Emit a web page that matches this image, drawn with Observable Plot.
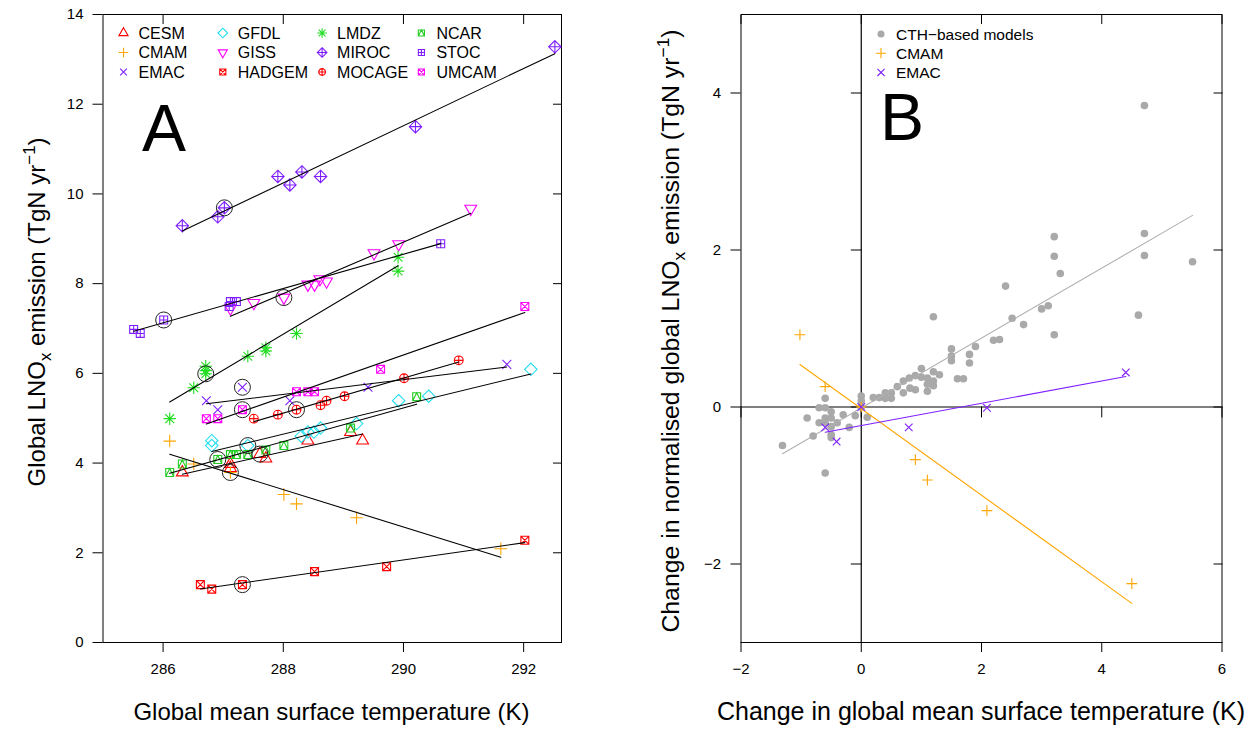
<!DOCTYPE html>
<html><head><meta charset="utf-8">
<script src="https://cdn.jsdelivr.net/npm/d3@7"></script>
<script src="https://cdn.jsdelivr.net/npm/@observablehq/plot@0.6"></script>
<style>
html,body{margin:0;padding:0;background:#fff;}
#wrap{position:relative;width:1256px;height:731px;font-family:"Liberation Sans",Arial,Helvetica,sans-serif;}
#wrap svg{position:absolute;top:0;}
</style></head><body><div id="wrap"></div>
<script>
// ---------- Panel A data ----------
const models = ["CESM","CMAM","EMAC","GFDL","GISS","HADGEM","LMDZ","MIROC","MOCAGE","NCAR","STOC","UMCAM"];
const modelColors = ["#ff0000","#ffa500","#7f1fff","#22def0","#ff00ff","#ff0000","#22dd22","#7f1fff","#ff0000","#22cc22","#7f1fff","#ff00ff"];
const modelSymbols = ["triUp","plus","cross","diamond","triDown","squareX","asterisk","diamondPlus","circlePlus","squareTri","squarePlus","squareX"];
const refIndex = [3,2,2,2,2,2,2,2,2,2,2,2];

const tempCESM = [286.32, 287.12, 287.12, 287.61, 287.71, 288.41, 289.12, 289.32];
const lnoxCESM = [3.79, 3.98, 3.89, 4.20, 4.10, 4.50, 4.69, 4.50];
const tempCMAM = [286.11, 286.51, 287.12, 288.01, 288.22, 289.22, 291.62];
const lnoxCMAM = [4.49, 3.98, 3.79, 3.30, 3.09, 2.78, 2.09];
const tempEMAC = [286.72, 286.91, 287.32, 288.11, 289.41, 291.72];
const lnoxEMAC = [5.39, 5.19, 5.69, 5.39, 5.69, 6.20];
const tempGFDL = [286.81, 286.81, 287.41, 288.30, 288.41, 288.51, 288.62, 289.22, 289.92, 290.42, 292.12];
const lnoxGFDL = [4.50, 4.39, 4.39, 4.60, 4.69, 4.69, 4.78, 4.88, 5.39, 5.49, 6.09];
const tempGISS = [287.12, 287.51, 288.01, 288.41, 288.52, 288.61, 288.72, 289.51, 289.92, 291.12];
const lnoxGISS = [7.45, 7.57, 7.69, 7.98, 7.98, 8.10, 8.05, 8.68, 8.88, 9.67];
const tempHADGEM = [286.62, 286.81, 287.32, 288.52, 289.72, 292.02];
const lnoxHADGEM = [1.29, 1.19, 1.29, 1.58, 1.69, 2.28];
const tempLMDZ = [286.11, 286.51, 286.71, 286.71, 286.71, 287.41, 287.71, 287.71, 288.22, 289.91, 289.91];
const lnoxLMDZ = [4.99, 5.68, 5.99, 6.06, 6.16, 6.38, 6.50, 6.57, 6.89, 8.59, 8.28];
const tempMIROC = [286.32, 286.91, 287.02, 287.91, 288.11, 288.31, 288.62, 290.20, 292.52];
const lnoxMIROC = [9.29, 9.49, 9.69, 10.39, 10.20, 10.49, 10.39, 11.50, 13.28];
const tempMOCAGE = [287.51, 287.91, 288.22, 288.62, 288.72, 289.02, 290.01, 290.92];
const lnoxMOCAGE = [4.99, 5.08, 5.19, 5.29, 5.39, 5.49, 5.89, 6.29];
const tempNCAR = [286.11, 286.32, 286.91, 287.12, 287.22, 287.41, 287.71, 288.01, 289.12, 290.22];
const lnoxNCAR = [3.79, 3.98, 4.08, 4.19, 4.19, 4.19, 4.29, 4.39, 4.78, 5.48];
const tempSTOC = [285.51, 285.62, 286.01, 287.10, 287.12, 287.22, 290.62];
const lnoxSTOC = [6.98, 6.89, 7.19, 7.49, 7.60, 7.60, 8.89];
const tempUMCAM = [286.72, 286.91, 287.32, 288.22, 288.41, 288.52, 289.62, 292.02];
const lnoxUMCAM = [4.99, 4.99, 5.19, 5.59, 5.59, 5.59, 6.09, 7.49];

const tempsA = [tempCESM,tempCMAM,tempEMAC,tempGFDL,tempGISS,tempHADGEM,tempLMDZ,tempMIROC,tempMOCAGE,tempNCAR,tempSTOC,tempUMCAM];
const lnoxA = [lnoxCESM,lnoxCMAM,lnoxEMAC,lnoxGFDL,lnoxGISS,lnoxHADGEM,lnoxLMDZ,lnoxMIROC,lnoxMOCAGE,lnoxNCAR,lnoxSTOC,lnoxUMCAM];
const ticksAx = [286, 288, 290, 292];
const ticksAy = [0, 2, 4, 6, 8, 10, 12, 14];

// ---------- Panel B data ----------
const dTempCTH = [4.71,4.71,4.71,5.51,4.61,3.21,3.21,3.31,3.21,2.40,1.20,2.51,2.70,3.00,3.11,2.20,2.30,1.50,1.90,1.50,1.50,1.80,1.80,1.60,1.70,1.00,1.20,1.30,0.70,0.80,0.90,1.00,1.10,1.20,1.10,0.90,0.70,0.60,0.40,0.50,0.20,0.30,0.00,0.81,1.20,1.10,0.40,0.50,0.00,0.00,0.10,-0.10,-0.30,-0.20,-0.60,-0.70,-0.60,-0.50,-0.50,-0.60,-0.90,-0.70,-0.60,-0.50,-0.40,-0.50,-0.50,-0.80,-1.31,-0.60];
const dLnoxCTH = [3.84,2.21,1.93,1.85,1.17,2.17,1.92,1.70,0.92,1.54,1.15,1.13,1.05,1.25,1.29,0.85,0.86,0.74,0.77,0.65,0.59,0.67,0.56,0.36,0.36,0.49,0.45,0.41,0.33,0.37,0.40,0.38,0.37,0.27,0.20,0.22,0.18,0.26,0.18,0.18,0.12,0.12,0.14,0.24,0.33,0.29,0.11,0.11,0.08,0.00,-0.13,-0.11,-0.10,-0.26,0.11,-0.01,-0.01,-0.06,-0.14,-0.14,-0.14,-0.20,-0.20,-0.25,-0.20,-0.35,-0.39,-0.37,-0.49,-0.84];
const dTempCMAM = [-1.02, -0.60, 0.00, 0.90, 1.10, 2.09, 4.50];
const dLnoxCMAM = [0.92, 0.26, 0.00, -0.67, -0.93, -1.32, -2.25];
const dTempEMAC = [-0.60, -0.41, 0.00, 0.79, 2.09, 4.40];
const dLnoxEMAC = [-0.26, -0.44, 0.00, -0.26, -0.01, 0.44];
const ticksBx = [-2, 0, 2, 4, 6];
const ticksBy = [-2, 0, 2, 4];
const legendB = ["CTH\u2212based models", "CMAM", "EMAC"];

// ---------- R-like plotting symbols ----------
const rad = (size) => Math.sqrt(size / Math.PI);
const SYM = {
  triUp: {draw(c, size){const s=rad(size); c.moveTo(0,-1.5551*s); c.lineTo(1.3468*s,0.7776*s); c.lineTo(-1.3468*s,0.7776*s); c.closePath();}},
  triDown: {draw(c, size){const s=rad(size); c.moveTo(0,1.5551*s); c.lineTo(1.3468*s,-0.7776*s); c.lineTo(-1.3468*s,-0.7776*s); c.closePath();}},
  plus: {draw(c, size){const s=rad(size)*1.4142; c.moveTo(-s,0); c.lineTo(s,0); c.moveTo(0,-s); c.lineTo(0,s);}},
  cross: {draw(c, size){const s=rad(size); c.moveTo(-s,-s); c.lineTo(s,s); c.moveTo(-s,s); c.lineTo(s,-s);}},
  diamond: {draw(c, size){const s=rad(size)*1.4142; c.moveTo(0,-s); c.lineTo(s,0); c.lineTo(0,s); c.lineTo(-s,0); c.closePath();}},
  squareX: {draw(c, size){const s=rad(size)*0.9; c.rect(-s,-s,2*s,2*s); c.moveTo(-s,-s); c.lineTo(s,s); c.moveTo(-s,s); c.lineTo(s,-s);}},
  asterisk: {draw(c, size){const r=rad(size); const s=r*1.4142; c.moveTo(-s,0); c.lineTo(s,0); c.moveTo(0,-s); c.lineTo(0,s); c.moveTo(-r,-r); c.lineTo(r,r); c.moveTo(-r,r); c.lineTo(r,-r);}},
  diamondPlus: {draw(c, size){const s=rad(size)*1.4142; c.moveTo(0,-s); c.lineTo(s,0); c.lineTo(0,s); c.lineTo(-s,0); c.closePath(); c.moveTo(-s,0); c.lineTo(s,0); c.moveTo(0,-s); c.lineTo(0,s);}},
  circlePlus: {draw(c, size){const s=rad(size); c.moveTo(s,0); c.arc(0,0,s,0,2*Math.PI); c.moveTo(-s,0); c.lineTo(s,0); c.moveTo(0,-s); c.lineTo(0,s);}},
  squarePlus: {draw(c, size){const s=rad(size)*0.9; c.rect(-s,-s,2*s,2*s); c.moveTo(-s,0); c.lineTo(s,0); c.moveTo(0,-s); c.lineTo(0,s);}},
  squareTri: {draw(c, size){const s=rad(size)*0.9; c.rect(-s,-s,2*s,2*s); c.moveTo(-s,s); c.lineTo(0,-s); c.lineTo(s,s);}}
};
const tickShape = {draw(c, l){ c.moveTo(0,0); c.lineTo(0,-l); }};

const FONT = "Liberation Sans, Arial, Helvetica, sans-serif";
const wrap = document.getElementById("wrap");

// ---------- Panel A ----------
const rowsA = models.flatMap((m,i) => tempsA[i].map((t,j) => ({model: m, t, e: lnoxA[i][j]})));
const refsA = models.map((m,i) => ({model: m, t: tempsA[i][refIndex[i]], e: lnoxA[i][refIndex[i]]}));

const plotA = Plot.plot({
  width: 628, height: 731,
  marginLeft: 102.5, marginRight: 67, marginTop: 14, marginBottom: 89,
  x: {domain: [285, 292.63]},
  y: {domain: [0, 14]},
  style: {fontFamily: FONT, fontSize: "15px", color: "#000", background: "transparent"},
  marks: [
    Plot.frame({stroke: "#000", strokeWidth: 1}),
    Plot.axisX({ticks: ticksAx, tickSize: 10, tickPadding: 11, fontSize: 15, label: null}),
    Plot.axisX({anchor: "top", ticks: ticksAx, tickSize: 9, dy: 9, fill: "none", label: null}),
    Plot.axisY({ticks: ticksAy, tickSize: 10, tickPadding: 9.5, fontSize: 15, label: null}),
    Plot.axisY({anchor: "right", ticks: ticksAy, tickSize: 9, dx: -9, fill: "none", label: null}),
    ...models.map((m,i) => Plot.dot(rowsA.filter(d => d.model === m), {
      x: "t", y: "e", symbol: SYM[modelSymbols[i]], r: 4.4,
      stroke: modelColors[i], fill: "none", strokeWidth: 1.1
    })),
    Plot.linearRegressionY(rowsA, {x: "t", y: "e", z: "model", stroke: "#000", strokeWidth: 1.1, ci: 0}),
    Plot.dot(refsA, {x: "t", y: "e", r: 8, stroke: "#222", fill: "none", strokeWidth: 1})
  ]
});
plotA.style.left = "0px";
wrap.appendChild(plotA);

// ---------- Panel B ----------
const cth = dTempCTH.map((t,i) => ({t, e: dLnoxCTH[i]}));
const cmam = dTempCMAM.map((t,i) => ({t, e: dLnoxCMAM[i]}));
const emac = dTempEMAC.map((t,i) => ({t, e: dLnoxEMAC[i]}));
const orange = modelColors[1], purple = modelColors[2], grey = "#a9a9a9";

const plotB = Plot.plot({
  width: 628, height: 731,
  marginLeft: 112.5, marginRight: 34.5, marginTop: 14, marginBottom: 89,
  x: {domain: [-2, 6]},
  y: {domain: [-3, 5]},
  style: {fontFamily: FONT, fontSize: "15px", color: "#000", background: "transparent"},
  marks: [
    Plot.frame({stroke: "#000", strokeWidth: 1}),
    Plot.ruleX([0], {stroke: "#000", strokeWidth: 1.2}),
    Plot.ruleY([0], {stroke: "#000", strokeWidth: 1.2}),
    Plot.axisX({ticks: ticksBx, tickSize: 10, tickPadding: 11, fontSize: 15, label: null}),
    Plot.axisX({anchor: "top", ticks: ticksBx, tickSize: 9, dy: 9, fill: "none", label: null}),
    Plot.axisY({ticks: ticksBy, tickSize: 10, tickPadding: 10, fontSize: 15, label: null}),
    Plot.axisY({anchor: "right", ticks: ticksBy, tickSize: 9, dx: -9, fill: "none", label: null}),
    Plot.vector(ticksBx, {x: d => d, y: d => 0, length: 10, rotate: 180, anchor: "start", shape: tickShape, stroke: "#000", strokeWidth: 1}),
    Plot.vector(ticksBy, {x: d => 0, y: d => d, length: 10, rotate: -90, anchor: "start", shape: tickShape, stroke: "#000", strokeWidth: 1}),
    Plot.dot(cth, {x: "t", y: "e", r: 3.8, fill: grey, stroke: "none"}),
    Plot.linearRegressionY(cth, {x: "t", y: "e", stroke: "#b0b0b0", strokeWidth: 1.1, ci: 0}),
    Plot.linearRegressionY(cmam, {x: "t", y: "e", stroke: orange, strokeWidth: 1.1, ci: 0}),
    Plot.dot(cmam, {x: "t", y: "e", symbol: SYM.plus, r: 3.8, stroke: orange, fill: "none", strokeWidth: 1.1}),
    Plot.linearRegressionY(emac, {x: "t", y: "e", stroke: purple, strokeWidth: 1.1, ci: 0}),
    Plot.dot(emac, {x: "t", y: "e", symbol: SYM.cross, r: 3.8, stroke: purple, fill: "none", strokeWidth: 1.1})
  ]
});
plotB.style.left = "628px";
wrap.appendChild(plotB);

// ---------- Overlay: titles, panel letters, legends ----------
const ov = d3.select(wrap).append("svg")
  .attr("width", 1256).attr("height", 731)
  .style("left", "0px").style("pointer-events", "none")
  .attr("font-family", FONT).attr("fill", "#000");

function yTitle(x, y, pre, fs) {
  const sub = fs * 0.7;
  const t = ov.append("text").attr("transform", `translate(${x},${y}) rotate(-90)`)
    .attr("text-anchor", "middle").attr("font-size", fs);
  t.append("tspan").text(pre + "LNO");
  t.append("tspan").attr("dy", 6).attr("font-size", sub).text("x");
  t.append("tspan").attr("dy", -6).text(" emission (TgN yr");
  t.append("tspan").attr("dy", -10).attr("font-size", sub).text("\u22121");
  t.append("tspan").attr("dy", 10).text(")");
}
yTitle(45, 312, "Global ", 24);
yTitle(679, 331, "Change in normalised global ", 24.8);

ov.append("text").attr("x", 331.5).attr("y", 720).attr("text-anchor", "middle").attr("font-size", 24)
  .text("Global mean surface temperature (K)");
ov.append("text").attr("x", 981).attr("y", 720).attr("text-anchor", "middle").attr("font-size", 25)
  .text("Change in global mean surface temperature (K)");

ov.append("text").attr("x", 142).attr("y", 151).attr("font-size", 66).text("A");
ov.append("text").attr("x", 880).attr("y", 140).attr("font-size", 66).text("B");

// legend A
models.forEach((m, i) => {
  const col = Math.floor(i / 3), row = i % 3;
  const sx = 123.5 + col * 99.3, sy = 33 + row * 19.5;
  ov.append("path").attr("d", d3.symbol(SYM[modelSymbols[i]], Math.PI * 3.4 * 3.4)())
    .attr("transform", `translate(${sx},${sy})`)
    .attr("fill", "none").attr("stroke", modelColors[i]).attr("stroke-width", 1.1);
  ov.append("text").attr("x", sx + 15).attr("y", sy + 5.7).attr("font-size", 16).text(m);
});

// legend B
const lbSym = [null, SYM.plus, SYM.cross];
const lbCol = [grey, orange, purple];
legendB.forEach((name, i) => {
  const sx = 881, sy = 34 + i * 19.2;
  if (i === 0) {
    ov.append("circle").attr("cx", sx).attr("cy", sy).attr("r", 3.5).attr("fill", grey);
  } else {
    ov.append("path").attr("d", d3.symbol(lbSym[i], Math.PI * 3.6 * 3.6)())
      .attr("transform", `translate(${sx},${sy})`)
      .attr("fill", "none").attr("stroke", lbCol[i]).attr("stroke-width", 1.1);
  }
  ov.append("text").attr("x", 896).attr("y", sy + 5.5).attr("font-size", 15.5).text(name);
});
</script></body></html>
